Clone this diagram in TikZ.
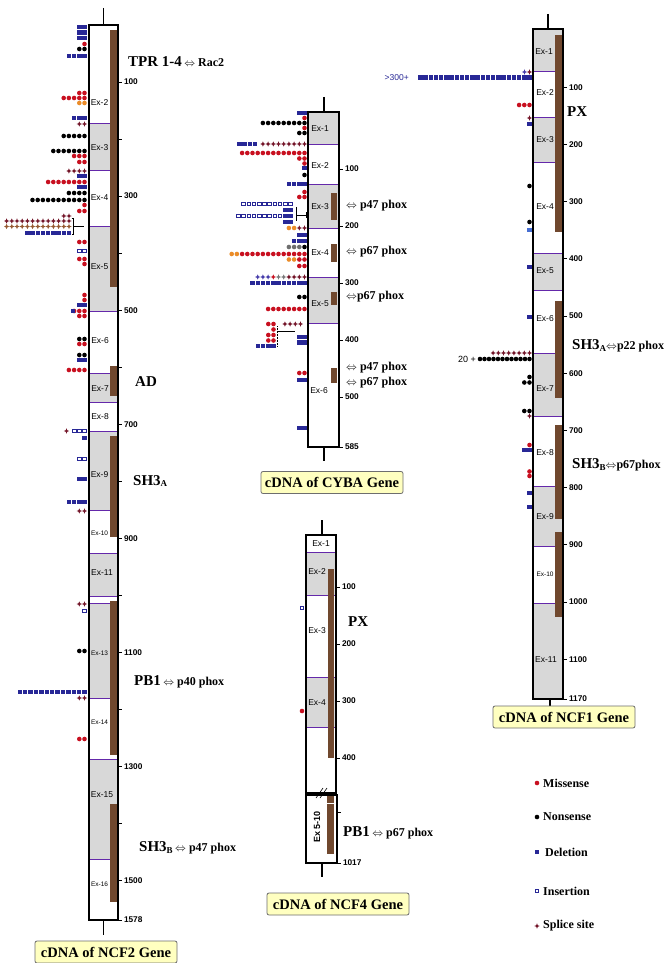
\documentclass[tikz,border=0pt]{standalone}
\usepackage{fontspec}
\setmainfont{Liberation Serif}
\newfontfamily\arialf{Liberation Sans}
\definecolor{cmis}{RGB}{200,16,32}
\definecolor{cdel}{RGB}{40,40,150}
\definecolor{cldel}{RGB}{70,110,210}
\definecolor{cspl}{RGB}{115,20,40}
\definecolor{cpspl}{RGB}{70,60,170}
\definecolor{cgspl}{RGB}{120,120,120}
\definecolor{cbspl}{RGB}{150,90,50}
\definecolor{cora}{RGB}{235,140,40}
\definecolor{cgry}{RGB}{110,110,110}
\definecolor{exgray}{RGB}{216,216,216}
\definecolor{exviolet}{RGB}{100,40,170}
\definecolor{dombrown}{RGB}{112,72,46}
\definecolor{boxyel}{RGB}{255,255,192}
\definecolor{boxedge}{RGB}{110,110,110}
\newcommand{\dblar}{\raisebox{0.1ex}{\scalebox{0.9}{$\Leftrightarrow$}}}
\newcommand{\subsc}[1]{\raisebox{-0.25ex}{\fontsize{9}{9}\selectfont #1}}
\newcommand{\dombig}{\fontsize{15}{15}\selectfont\bfseries}
\newcommand{\domsm}{\fontsize{12}{12}\selectfont\bfseries}
\newcommand{\mrow}[5][5.2]{\foreach \mi in {1,...,#5}{\pic at ({#3-(\mi-1)*#1},#4) {#2};}}
\tikzset{
  mis/.pic={\fill[cmis] (0,0) circle[radius=2.3pt];},
  non/.pic={\fill[black] (0,0) circle[radius=2.3pt];},
  ora/.pic={\fill[cora] (0,0) circle[radius=2.3pt];},
  gry/.pic={\fill[cgry] (0,0) circle[radius=2.3pt];},
  del/.pic={\fill[cdel] (-2.2pt,-2.2pt) rectangle (2.2pt,2.2pt);},
  ldel/.pic={\fill[cldel] (-2.2pt,-2.2pt) rectangle (2.2pt,2.2pt);},
  ins/.pic={\draw[cdel,line width=0.75pt] (-1.8pt,-1.8pt) rectangle (1.8pt,1.8pt);},
  spl/.pic={\fill[cspl] (0,2.6pt) -- (0.8pt,0.8pt) -- (2.6pt,0) -- (0.8pt,-0.8pt) -- (0,-2.6pt) -- (-0.8pt,-0.8pt) -- (-2.6pt,0) -- (-0.8pt,0.8pt) -- cycle;},
  pspl/.pic={\fill[cpspl] (0,2.6pt) -- (0.8pt,0.8pt) -- (2.6pt,0) -- (0.8pt,-0.8pt) -- (0,-2.6pt) -- (-0.8pt,-0.8pt) -- (-2.6pt,0) -- (-0.8pt,0.8pt) -- cycle;},
  rspl/.pic={\fill[cmis] (0,2.6pt) -- (0.8pt,0.8pt) -- (2.6pt,0) -- (0.8pt,-0.8pt) -- (0,-2.6pt) -- (-0.8pt,-0.8pt) -- (-2.6pt,0) -- (-0.8pt,0.8pt) -- cycle;},
  gspl/.pic={\fill[cgspl] (0,2.6pt) -- (0.8pt,0.8pt) -- (2.6pt,0) -- (0.8pt,-0.8pt) -- (0,-2.6pt) -- (-0.8pt,-0.8pt) -- (-2.6pt,0) -- (-0.8pt,0.8pt) -- cycle;},
  bspl/.pic={\fill[cbspl] (0,2.6pt) -- (0.8pt,0.8pt) -- (2.6pt,0) -- (0.8pt,-0.8pt) -- (0,-2.6pt) -- (-0.8pt,-0.8pt) -- (-2.6pt,0) -- (-0.8pt,0.8pt) -- cycle;},
  genebox/.style={draw=black, line width=1.3pt},
  exl/.style={draw=exviolet, line width=1pt},
  tk/.style={line width=1pt},
  stem/.style={line width=1.2pt},
  exlab/.style={font=\arialf\fontsize{8.5}{8.5}\selectfont, inner sep=0pt},
  exlabs/.style={font=\arialf\fontsize{6.5}{6.5}\selectfont, inner sep=0pt},
  ticklab/.style={font=\arialf\bfseries\fontsize{8.3}{8.3}\selectfont, anchor=west, inner sep=0pt, xshift=1.5pt},
  dom/.style={anchor=west, inner sep=0pt},
  titlebox/.style={draw=boxedge, fill=boxyel, rounded corners=2pt, line width=0.8pt, font=\fontsize{14.5}{14.5}\selectfont\bfseries, minimum width=142pt, minimum height=22pt, inner sep=0pt},
  legtext/.style={anchor=west, inner sep=0pt, font=\fontsize{12}{12}\selectfont\bfseries},
  brk/.style={line width=0.6pt},
}
\begin{document}
\begin{tikzpicture}[x=1pt,y=-1pt]
\useasboundingbox[fill=white] (0,0) rectangle (670,963);

% ================= NCF2 =================
\fill[white] (89,25) rectangle (118,920);
\foreach \a/\b in {124/170,226/311,373/402,431/510,553/596,603/698,759/859} \fill[exgray] (89,\a) rectangle (118,\b);
\foreach \a in {124,170,226,311,373,402,431,510,553,596,603,698,759,859} \draw[exl] (89,\a) -- (118,\a);
\foreach \a/\b in {30/287,366/396,436/537,601/755,804/902} \fill[dombrown] (110,\a) rectangle (117,\b);
\draw[genebox] (89,25) rectangle (118,920);
\draw[stem] (103.5,8) -- (103.5,25);
\draw[stem] (103.5,920) -- (103.5,935);
\foreach \n in {100,300,...,1500} {\draw[tk] (118,{25+0.5703*\n}) -- ++(4,0) node[ticklab]{\n};}
\foreach \n in {200,400,...,1400} {\draw[tk] (118,{25+0.5703*\n}) -- ++(4,0);}
\draw[tk] (118,920) -- ++(4,0) node[ticklab]{1578};
\node[exlab] (n2e2) at (99.5,103) {Ex-2};
\node[exlab] (n2e3) at (99.5,148) {Ex-3};
\node[exlab] (n2e4) at (99.5,198) {Ex-4};
\node[exlab] (n2e5) at (99.5,267) {Ex-5};
\node[exlab] (n2e6) at (100,341) {Ex-6};
\node[exlab] (n2e7) at (100,389) {Ex-7};
\node[exlab] (n2e8) at (100,417) {Ex-8};
\node[exlab] (n2e9) at (99.5,475) {Ex-9};
\node[exlabs] (n2e10) at (99.5,533) {Ex-10};
\node[exlab] (n2e11) at (102,573) {Ex-11};
\node[exlabs] (n2e13) at (99.5,653) {Ex-13};
\node[exlabs] (n2e14) at (99.5,722) {Ex-14};
\node[exlab] (n2e15) at (102,795) {Ex-15};
\node[exlabs] (n2e16) at (99.5,884) {Ex-16};
\node[dom] (n2d1) at (128,62) {{\dombig TPR 1-4} {\domsm\dblar\ Rac2}};
\node[dom] (n2d2) at (135,382) {\dombig AD};
\node[dom] (n2d3) at (133,481) {\dombig SH3\subsc{A}};
\node[dom] (n2d4) at (134,682) {{\dombig PB1} {\domsm\dblar\ p40 phox}};
\node[dom] (n2d5) at (139,848) {{\dombig SH3\subsc{B}} {\domsm\dblar\ p47 phox}};
\node[titlebox] (t2) at (106,952) {cDNA of NCF2 Gene};
% NCF2 mutations
\mrow{del}{84.5}{27}{2}
\mrow{del}{84.5}{32.5}{2}
\mrow{del}{84.5}{38}{2}
\mrow{mis}{84.5}{44}{1}
\mrow{non}{84.5}{49}{2}
\mrow{del}{84.5}{56}{4}
\mrow{mis}{84.5}{93}{2}
\mrow{mis}{84.5}{98}{5}
\mrow{ora}{84.5}{103}{2}
\mrow{del}{84.5}{118}{3}
\mrow{spl}{84.5}{124}{2}
\mrow{non}{84.5}{136}{5}
\mrow{non}{84.5}{151}{7}
\mrow{mis}{84.5}{156}{3}
\mrow{mis}{84.5}{162}{2}
\mrow{spl}{84.5}{171}{4}
\mrow{del}{84.5}{176}{2}
\mrow{mis}{84.5}{182}{8}
\mrow{del}{84.5}{187}{2}
\mrow{non}{84.5}{193}{4}
\mrow{non}{84.5}{200}{11}
\mrow{mis}{84.5}{205}{1}
\mrow{mis}{84.5}{211}{2}
\mrow{spl}{69}{216}{2}
\mrow{spl}{69}{221}{13}
\mrow{bspl}{69}{226.5}{13}
\mrow{del}{69}{233}{9}
\draw[line width=0.6pt] (71.5,218) -- (73.5,218) -- (73.5,234) -- (71.5,234);
\draw[line width=0.6pt] (73.5,226) -- (84,226);
\mrow{mis}{84.5}{242}{2}
\mrow{ins}{84.5}{251}{2}
\mrow{mis}{84.5}{259}{2}
\mrow{mis}{84.5}{264}{1}
\mrow{mis}{84.5}{295}{1}
\mrow{mis}{84.5}{300}{1}
\mrow{del}{84.5}{305}{2}
\mrow{mis}{84.5}{311}{3}
\mrow{del}{73}{311}{1}
\mrow{mis}{84.5}{316}{2}
\mrow{non}{84.5}{339}{2}
\mrow{mis}{84.5}{344}{2}
\mrow{non}{84.5}{355}{2}
\mrow{del}{84.5}{360}{2}
\mrow{mis}{84.5}{370}{4}
\mrow{ins}{84.5}{431}{3}
\mrow{spl}{66.5}{431}{1}
\mrow{del}{84.5}{438}{1}
\mrow{ins}{84.5}{459}{2}
\mrow{del}{84.5}{479}{2}
\mrow{del}{84.5}{502}{4}
\mrow{spl}{84.5}{511}{2}
\mrow{spl}{84.5}{604}{2}
\mrow{ins}{84.5}{611}{1}
\mrow{non}{84.5}{651}{2}
\mrow[5.4]{del}{84.5}{692}{13}
\mrow{spl}{84.5}{698}{2}
\mrow{mis}{84.5}{739}{2}

% ================= CYBA =================
\fill[white] (308,112) rectangle (339,447);
\foreach \a/\b in {112/144,184/228,277/323} \fill[exgray] (308,\a) rectangle (339,\b);
\foreach \a in {144,184,228,277,323} \draw[exl] (308,\a) -- (339,\a);
\foreach \a/\b in {193/220,244/262,292/305,368/383} \fill[dombrown] (331,\a) rectangle (337,\b);
\draw[genebox] (308,112) rectangle (339,447);
\draw[stem] (324,97) -- (324,112);
\draw[stem] (324,447) -- (324,461);
\foreach \n in {100,200,...,500} {\draw[tk] (339,{112+0.57*\n}) -- ++(4,0) node[ticklab]{\n};}
\draw[tk] (339,447) -- ++(4,0) node[ticklab]{585};
\node[exlab] (c1) at (320,129) {Ex-1};
\node[exlab] (c2) at (320,166) {Ex-2};
\node[exlab] (c3) at (320,207) {Ex-3};
\node[exlab] (c4) at (320,253) {Ex-4};
\node[exlab] (c5) at (320,304) {Ex-5};
\node[exlab] (c6) at (319,391) {Ex-6};
\node[dom] (cd1) at (346,206) {\domsm\dblar\ p47 phox};
\node[dom] (cd2) at (346,252) {\domsm\dblar\ p67 phox};
\node[dom] (cd3) at (346,297) {\domsm\dblar p67 phox};
\node[dom] (cd4) at (346,368) {\domsm\dblar\ p47 phox};
\node[dom] (cd5) at (346,383) {\domsm\dblar\ p67 phox};
\node[titlebox] (tc) at (332,482.5) {cDNA of CYBA Gene};
% CYBA mutations
\mrow{del}{304.5}{113}{2}
\mrow{mis}{304.5}{118}{1}
\mrow{non}{304.5}{123}{9}
\mrow{mis}{304.5}{128}{1}
\mrow{non}{304.5}{133}{2}
\mrow{spl}{304.5}{144}{9}
\mrow{del}{255}{144}{4}
\mrow{mis}{304.5}{153}{13}
\mrow{mis}{304.5}{158.5}{2}
\mrow{mis}{304.5}{163.5}{1}
\mrow{del}{304.5}{168}{1}
\mrow{non}{304.5}{175}{1}
\mrow{del}{304.5}{184}{4}
\mrow{mis}{304.5}{192}{1}
\mrow{mis}{304.5}{197}{2}
\mrow{ins}{280}{204}{8}
\mrow{ins}{290.5}{204}{2}
\mrow{del}{290.5}{210}{2}
\mrow{ins}{280}{216}{9}
\mrow{del}{290.5}{216}{2}
\mrow{del}{290.5}{222}{2}
\draw[line width=0.6pt] (296,207) -- (296,221);
\draw[line width=0.6pt] (296,215) -- (306,215);
\draw[line width=0.6pt] (306,212) -- (306,218);
\mrow{spl}{304.5}{228}{2}
\mrow{ora}{294.1}{228}{2}
\mrow{del}{304.5}{235}{2}
\mrow{del}{304.5}{241}{3}
\mrow{non}{304.5}{247}{1}
\mrow{gry}{299.3}{247}{3}
\mrow{mis}{304.5}{254}{13}
\mrow{ora}{236.9}{254}{2}
\mrow{mis}{304.5}{259.5}{2}
\mrow{ora}{294.1}{259.5}{2}
\mrow{mis}{304.5}{266}{2}
\mrow{spl}{304.5}{277}{4}
\mrow{gspl}{283.7}{277}{2}
\mrow{rspl}{273.3}{277}{1}
\mrow{pspl}{268.1}{277}{3}
\mrow{del}{304.5}{283}{11}
\mrow{non}{304.5}{297}{2}
\mrow{mis}{304.5}{309}{8}
\mrow{mis}{273.5}{324}{2}
\mrow{spl}{300.5}{324}{4}
\mrow{mis}{273.5}{329.5}{1}
\mrow{mis}{273.5}{335}{2}
\mrow{mis}{273.5}{340.5}{2}
\mrow{del}{273.5}{346}{4}
\mrow{del}{304.5}{337}{2}
\mrow{del}{304.5}{342.5}{2}
\draw[line width=0.6pt] (277.5,331) -- (295,331);
\draw[line width=0.5pt, densely dotted] (277.5,326) -- (277.5,346);
\mrow{mis}{304.5}{373}{2}
\mrow{del}{304.5}{380}{2}
\mrow{del}{304.5}{428}{2}

% ================= NCF1 =================
\fill[white] (533,29) rectangle (563,699);
\foreach \a/\b in {29/72,118/162,253/290,353/416,486/546,603/699} \fill[exgray] (533,\a) rectangle (563,\b);
\foreach \a in {72,118,162,253,290,353,416,486,546,603} \draw[exl] (533,\a) -- (563,\a);
\foreach \a/\b in {35/232,301/398,425/519,532/617} \fill[dombrown] (555,\a) rectangle (562,\b);
\draw[genebox] (533,29) rectangle (563,699);
\draw[stem] (548,14) -- (548,29);
\draw[stem] (550,699) -- (550,706);
\foreach \n in {100,200,...,1100} {\draw[tk] (563,{30+0.572*\n}) -- ++(4,0) node[ticklab]{\n};}
\draw[tk] (563,699) -- ++(4,0) node[ticklab]{1170};
\node[exlab] (f1) at (544,52) {Ex-1};
\node[exlab] (f2) at (545,93) {Ex-2};
\node[exlab] (f3) at (545,140) {Ex-3};
\node[exlab] (f4) at (545,207) {Ex-4};
\node[exlab] (f5) at (545,271) {Ex-5};
\node[exlab] (f6) at (545,319) {Ex-6};
\node[exlab] (f7) at (545,389) {Ex-7};
\node[exlab] (f8) at (545,453) {Ex-8};
\node[exlab] (f9) at (545,517) {Ex-9};
\node[exlabs] (f10) at (545,574) {Ex-10};
\node[exlab] (f11) at (546,660) {Ex-11};
\node[dom] (fd1) at (567,112) {\dombig PX};
\node[dom] (fd2) at (572,346) {{\dombig SH3\subsc{A}}{\domsm\dblar p22 phox}};
\node[dom] (fd3) at (572,465) {{\dombig SH3\subsc{B}}{\domsm\dblar p67phox}};
\node[titlebox] (t1) at (564,717) {cDNA of NCF1 Gene};
% NCF1 mutations
\mrow{spl}{529.5}{72}{1}
\mrow{pspl}{524.5}{72}{1}
\mrow{del}{529.5}{77.5}{22}
\node[anchor=east, inner sep=0pt, text=cdel, font=\arialf\fontsize{8.5}{8.5}\selectfont] (f300) at (409,77.5) {>300+};
\mrow{mis}{529.5}{105}{3}
\mrow{spl}{529.5}{118}{1}
\mrow{del}{529.5}{124}{1}
\mrow{non}{529.5}{186}{1}
\mrow{non}{529.5}{222}{1}
\mrow{ldel}{529.5}{230}{1}
\mrow{del}{529.5}{267}{1}
\mrow{del}{529.5}{317}{1}
\mrow{spl}{529.5}{353}{8}
\mrow[4.5]{non}{529.5}{359}{12}
\node[anchor=east, inner sep=0pt, font=\arialf\fontsize{9}{9}\selectfont] (f20) at (476,359) {20 +};
\mrow{non}{529.5}{377}{1}
\mrow{non}{529.5}{382.5}{2}
\mrow{non}{529.5}{411}{2}
\mrow{spl}{529.5}{416}{1}
\mrow{mis}{529.5}{445}{1}
\mrow{del}{529.5}{450}{2}
\mrow{mis}{529.5}{471.5}{1}
\mrow{mis}{529.5}{476}{1}
\mrow{del}{529.5}{493}{1}
\mrow{del}{529.5}{507}{1}

% ================= NCF4 =================
\fill[white] (306,535) rectangle (336,793);
\foreach \a/\b in {552/595,677/727} \fill[exgray] (306,\a) rectangle (336,\b);
\foreach \a in {552,595,677,727} \draw[exl] (306,\a) -- (336,\a);
\fill[dombrown] (328,569) rectangle (334,758);
\draw[genebox] (306,535) rectangle (336,793);
\fill[white] (306,795) rectangle (337,863);
\fill[dombrown] (327,796) rectangle (334,854);
\draw[white, line width=0.5pt] (327,803) -- (334,803);
\draw[genebox] (306,795) rectangle (337,863);
\draw[brk] (316,798) -- (323,788);
\draw[brk] (320,798) -- (327,788);
\draw[stem] (322,520) -- (322,535);
\draw[stem] (322,863) -- (322,877);
\foreach \n in {100,200,...,400} {\draw[tk] (336,{530+0.57*\n}) -- ++(4,0) node[ticklab]{\n};}
\draw[tk] (337,812) -- ++(4,0);
\draw[tk] (337,863) -- ++(4,0) node[ticklab]{1017};
\node[exlab] (g1) at (321,544) {Ex-1};
\node[exlab] (g2) at (317,572) {Ex-2};
\node[exlab] (g3) at (317,631) {Ex-3};
\node[exlab] (g4) at (317,703) {Ex-4};
\node[rotate=90, inner sep=0pt, font=\arialf\bfseries\fontsize{9}{9}\selectfont] (g5) at (317,827) {Ex 5-10};
\node[dom] (gd1) at (348,622) {\dombig PX};
\node[dom] (gd2) at (343,833) {{\dombig PB1} {\domsm\dblar\ p67 phox}};
\node[titlebox] (t4) at (338,904) {cDNA of NCF4 Gene};
\pic at (302,608) {ins};
\pic at (302,711) {mis};

% ================= Legend =================
\pic at (537,783) {mis};
\node[legtext] (l1) at (543,783) {Missense};
\pic at (537,817) {non};
\node[legtext] (l2) at (543,817) {Nonsense};
\pic at (537,852) {del};
\node[legtext] (l3) at (545,852) {Deletion};
\pic at (537,891) {ins};
\node[legtext] (l4) at (543,891) {Insertion};
\pic at (537,926) {spl};
\node[legtext] (l5) at (543,926) {Splice site};
\end{tikzpicture}
\end{document}
